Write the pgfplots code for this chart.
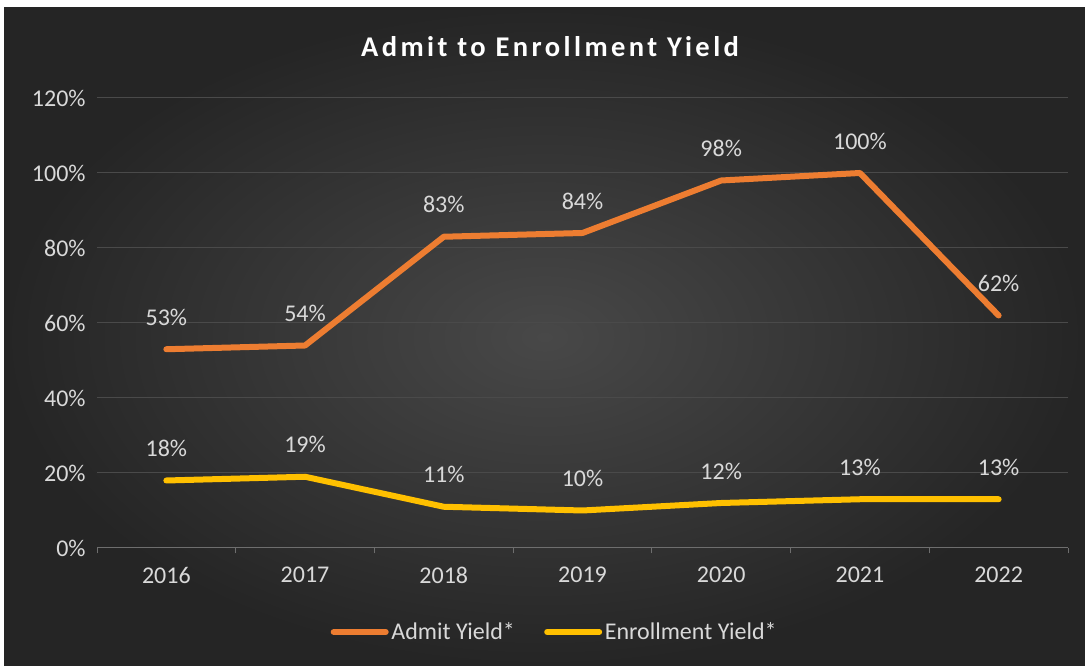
\documentclass[border=0pt]{standalone}
\usepackage{pgfplots}
\pgfplotsset{compat=1.18}
\usepackage{fontspec}
\setmainfont{Carlito}
\definecolor{admit}{HTML}{ED7D31}
\definecolor{enrol}{HTML}{FFC000}
\definecolor{labelgray}{HTML}{D9D9D9}
\definecolor{gridgray}{HTML}{4A4A4A}
\definecolor{bgin}{HTML}{484848}
\definecolor{bgout}{HTML}{252525}

\pgfplotstableread{
x admit enrol
0 53 18
1 54 19
2 83 11
3 84 10
4 98 12
5 100 13
6 62 13
}\yielddata

\begin{document}
\begin{tikzpicture}[x=1pt,y=1pt]
\fill[white] (0,0) rectangle (813.75,499.5);
\shade[inner color=bgin, outer color=bgout] (3,0) rectangle (813.75,493.5);
\node[text=white, font=\fontsize{21.4}{25}\selectfont\bfseries\addfontfeatures{LetterSpace=12}] at (412.5,464.25) {Admit to Enrollment Yield};
\begin{axis}[
  at={(72.75pt,88.5pt)}, anchor=south west,
  scale only axis, width=728.25pt, height=337.5pt,
  xmin=-0.5, xmax=6.5, ymin=0, ymax=120,
  xtick={0,...,6},
  xticklabels={2016,2017,2018,2019,2020,2021,2022},
  minor xtick={-0.5,0.5,...,6.5},
  ytick={0,20,...,120},
  yticklabel={\pgfmathprintnumber{\tick}\%},
  /pgf/number format/assume math mode=true,
  axis x line*=bottom, axis y line*=left,
  x axis line style={draw=gridgray!80!white, line width=0.75pt, -},
  y axis line style={draw=none},
  major tick length=0pt,
  minor tick length=4pt,
  tick align=outside,
  minor tick style={draw=gridgray!80!white, line width=0.75pt},
  ymajorgrids, grid style={draw=gridgray, line width=0.75pt},
  ticklabel style={text=labelgray, font=\fontsize{18}{20}\selectfont},
  xticklabel style={yshift=-11pt},
  yticklabel style={xshift=-5pt},
  nodes near coords={\pgfmathprintnumber[fixed,precision=0]{\pgfplotspointmeta}\%},
  every node near coord/.append style={text=labelgray, font=\fontsize{18}{20}\selectfont, anchor=center, yshift=24pt},
  legend columns=2,
  legend style={draw=none, fill=none, text=labelgray, font=\fontsize{18}{20}\selectfont,
    at={(0.4717,-0.1867)}, anchor=center,
    /tikz/every even column/.append style={column sep=20pt}},
  legend cell align=left,
  legend image code/.code={\draw[#1, line cap=round] (0pt,0pt) -- (39pt,0pt);},
]
\addplot[admit, line width=4.5pt, line cap=round, line join=round] table[x=x, y=admit] {\yielddata};
\addlegendentry{Admit Yield*}
\addplot[enrol, line width=4.5pt, line cap=round, line join=round] table[x=x, y=enrol] {\yielddata};
\addlegendentry{Enrollment Yield*}
\end{axis}
\end{tikzpicture}
\end{document}
